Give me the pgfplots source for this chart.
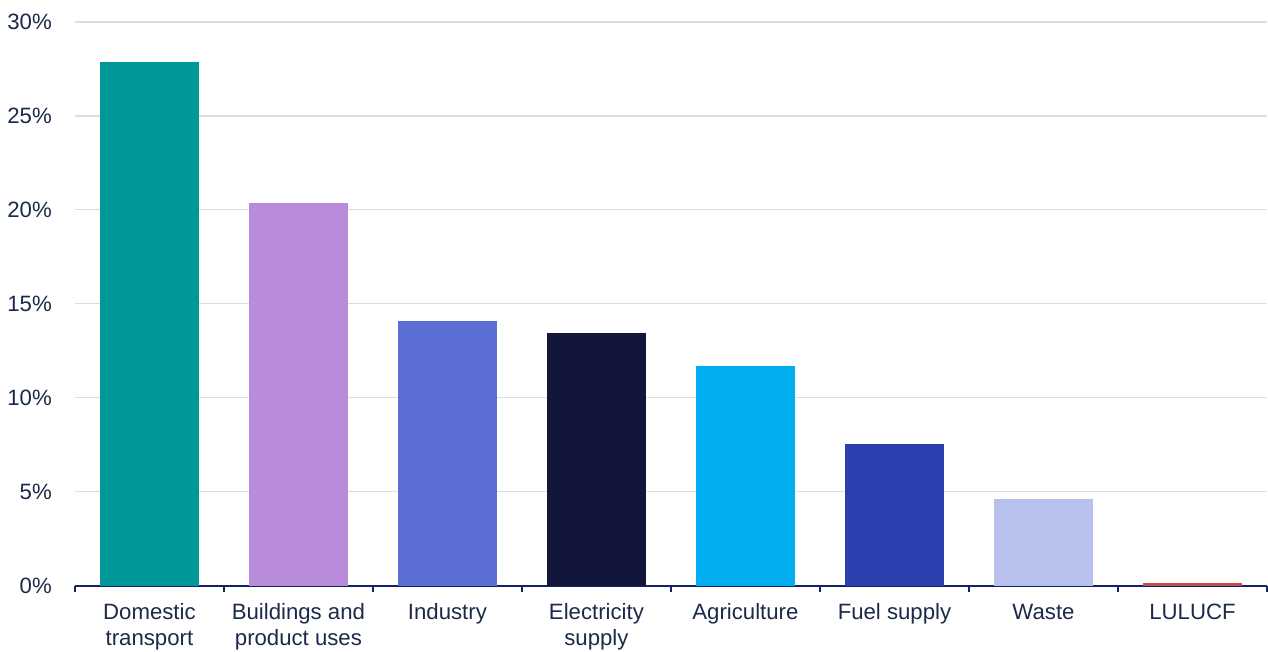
\documentclass[border=0pt]{standalone}
\usepackage{pgfplots}
\pgfplotsset{compat=1.18}
\usepackage{fontspec}
\setmainfont{Liberation Sans}
\definecolor{txt}{HTML}{1B2A4A}
\definecolor{axl}{HTML}{142366}
\definecolor{grd}{HTML}{DDDDDD}
\definecolor{c1}{HTML}{009999}
\definecolor{c2}{HTML}{B88CDB}
\definecolor{c3}{HTML}{5C6FD6}
\definecolor{c4}{HTML}{12163A}
\definecolor{c5}{HTML}{00AEEF}
\definecolor{c6}{HTML}{2B3FAF}
\definecolor{c7}{HTML}{B8C0EE}
\definecolor{c8}{HTML}{C0504D}
\begin{document}
\fontsize{11.1}{13}\selectfont
\begin{tikzpicture}
\begin{axis}[
  at={(0,0)}, anchor=south west,
  scale only axis, width=596.5pt, height=282pt,
  xmin=-0.5, xmax=7.5, ymin=0, ymax=30,
  axis x line*=bottom, axis y line*=left,
  y axis line style={draw=none},
  x axis line style={draw=axl, line width=1pt},
  ytick={0,5,...,30},
  yticklabel={\pgfmathprintnumber{\tick}\%},
  ytick style={draw=none},
  yticklabel style={xshift=-3.4pt, text=txt},
  /pgf/number format/assume math mode=true,
  ymajorgrids, grid style={draw=grd, line width=0.6pt},
  xtick={0,...,7},
  xticklabels={Domestic\\transport, Buildings and\\product uses, Industry, Electricity\\supply, Agriculture, Fuel supply, Waste, LULUCF},
  xticklabel style={align=center, text=txt, yshift=-4.7pt, anchor=north, inner sep=0pt},
  major x tick style={draw=none},
  minor xtick={-0.5,0.5,...,7.5},
  minor x tick style={draw=axl, line width=0.9pt},
  minor tick length=3.2pt,
  tick align=outside,
  clip=false,
  ybar, bar width=0.665, bar shift=0pt,
]
\addplot[fill=c1, draw=none] coordinates {(0,27.87)};
\addplot[fill=c2, draw=none] coordinates {(1,20.37)};
\addplot[fill=c3, draw=none] coordinates {(2,14.1)};
\addplot[fill=c4, draw=none] coordinates {(3,13.46)};
\addplot[fill=c5, draw=none] coordinates {(4,11.7)};
\addplot[fill=c6, draw=none] coordinates {(5,7.55)};
\addplot[fill=c7, draw=none] coordinates {(6,4.63)};
\addplot[fill=c8, draw=none] coordinates {(7,0.16)};
\end{axis}
\path[use as bounding box] (-37pt,-33pt) rectangle (597pt,293pt);
\end{tikzpicture}
\end{document}
